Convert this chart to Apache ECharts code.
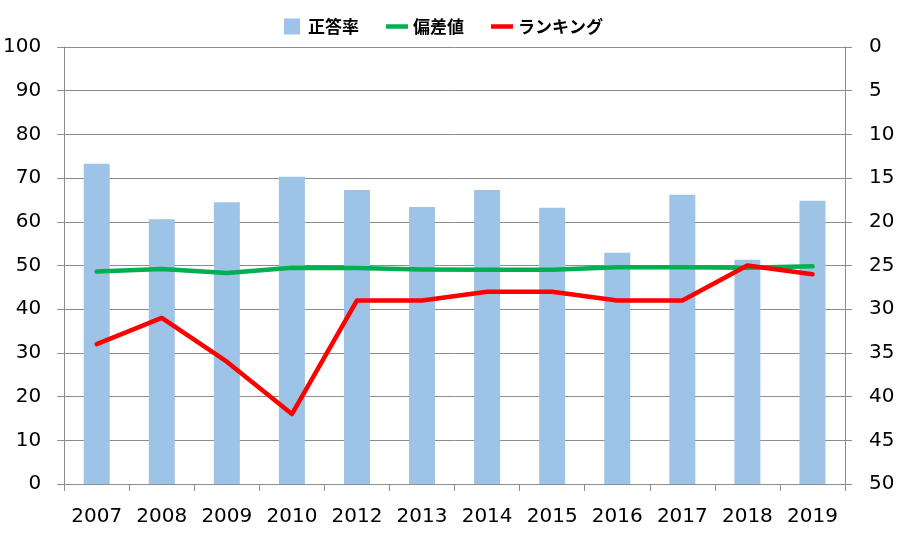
<!DOCTYPE html>
<html>
<head>
<meta charset="utf-8">
<script src="https://cdn.jsdelivr.net/npm/echarts@6/dist/echarts.min.js"></script>
<style>html,body{margin:0;padding:0;background:#fff;}#c{width:905px;height:546px;}</style>
</head>
<body>
<div id="c"></div>
<script>
const categories = ['2007','2008','2009','2010','2012','2013','2014','2015','2016','2017','2018','2019'];
const correctRate = [73.3, 60.6, 64.5, 70.3, 67.3, 63.4, 67.3, 63.2, 52.9, 66.2, 51.3, 64.8];
const deviation = [48.6, 49.2, 48.3, 49.5, 49.4, 49.1, 49.0, 49.0, 49.6, 49.6, 49.5, 49.8];
const ranking = [34, 31, 36, 42, 29, 29, 28, 28, 29, 29, 25, 26];

const chart = echarts.init(document.getElementById('c'), null, {renderer: 'canvas'});
const axisFont = {fontFamily: 'DejaVu Sans, Verdana, sans-serif', fontSize: 20, color: '#000'};
const gridColor = '#8c8c8c';
chart.setOption({
  animation: false,
  backgroundColor: '#fff',
  legend: {
    top: 13,
    left: 279,
    itemGap: 27,
    itemWidth: 22,
    itemHeight: 16,
    textStyle: {fontFamily: 'Noto Sans CJK JP, sans-serif', fontSize: 17, fontWeight: 'bold', color: '#000'},
    data: [
      {name: '正答率', icon: 'path://M0,0 L14,0 L14,14 L0,14 Z', itemStyle: {color: '#9DC3E6'}},
      {name: '偏差値', icon: 'path://M0,0 L22,0 L22,4.5 L0,4.5 Z'},
      {name: 'ランキング', icon: 'path://M0,0 L22,0 L22,4.5 L0,4.5 Z'}
    ]
  },
  grid: {left: 64, right: 60, top: 47, bottom: 62},
  xAxis: {
    type: 'category',
    data: categories,
    axisLine: {lineStyle: {color: gridColor, width: 1}},
    axisTick: {show: true, length: 7, interval: 0, alignWithLabel: false, lineStyle: {color: gridColor}},
    axisLabel: Object.assign({margin: 23, interval: 0}, axisFont)
  },
  yAxis: [
    {
      type: 'value', min: 0, max: 100, interval: 10, position: 'left',
      axisLine: {show: true, lineStyle: {color: gridColor}},
      axisTick: {show: true, length: 7, lineStyle: {color: gridColor}},
      splitLine: {show: true, lineStyle: {color: gridColor, width: 1}},
      axisLabel: Object.assign({margin: 23}, axisFont)
    },
    {
      type: 'value', min: 0, max: 50, interval: 5, inverse: true, position: 'right',
      axisLine: {show: true, lineStyle: {color: gridColor}},
      axisTick: {show: true, length: 7, lineStyle: {color: gridColor}},
      splitLine: {show: false},
      axisLabel: Object.assign({margin: 24}, axisFont)
    }
  ],
  series: [
    {
      name: '正答率', type: 'bar', yAxisIndex: 0, data: correctRate,
      barWidth: 26, itemStyle: {color: '#9DC3E6'}
    },
    {
      name: '偏差値', type: 'line', yAxisIndex: 0, data: deviation,
      showSymbol: false, symbol: 'none', itemStyle: {color: '#00B050'},
      lineStyle: {color: '#00B050', width: 4.5, cap: 'round', join: 'round'}
    },
    {
      name: 'ランキング', type: 'line', yAxisIndex: 1, data: ranking,
      showSymbol: false, symbol: 'none', itemStyle: {color: '#FF0000'},
      lineStyle: {color: '#FF0000', width: 4.5, cap: 'round', join: 'round'}
    }
  ]
});
</script>
</body>
</html>
